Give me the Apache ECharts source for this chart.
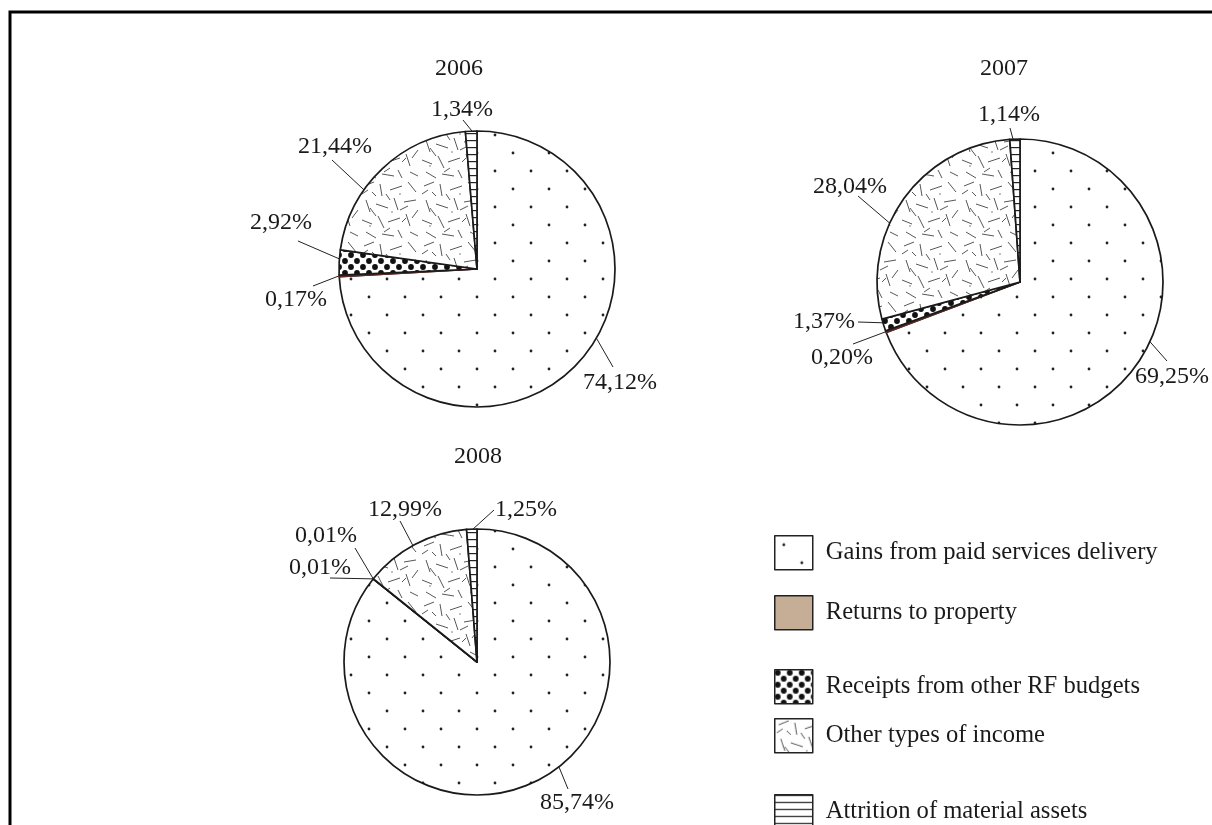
<!DOCTYPE html>
<html>
<head>
<meta charset="utf-8">
<title>Structure of income, 2006–2008</title>
<script src="https://cdn.jsdelivr.net/npm/echarts@6/dist/echarts.min.js"></script>
<style>
  html, body { margin: 0; padding: 0; background: #fff; }
  #chart { width: 1212px; height: 825px; }
</style>
</head>
<body>
<div id="chart"></div>
<script>
// ---- data ----
const years = ['2006', '2007', '2008'];
const categories = [
  'Gains from paid services delivery',
  'Returns to property',
  'Receipts from other RF budgets',
  'Other types of income',
  'Attrition of material assets'
];
const shares2006 = [74.12, 0.17, 2.92, 21.44, 1.34];
const shares2007 = [69.25, 0.20, 1.37, 28.04, 1.14];
const shares2008 = [85.74, 0.01, 0.01, 12.99, 1.25];
const sharesByYear = [shares2006, shares2007, shares2008];

// ---- layout ----
const FONT = 'Liberation Serif, Times New Roman, serif';
const INK = '#1a1a1a';

const pies = [
  { center: [477, 269], radius: 138, title: [459, 70] },
  { center: [1020, 282], radius: 143, title: [1004, 70] },
  { center: [477, 662], radius: 133, title: [478, 458] }
];

// per slice: text centre, outer end of the leader, and how far along the slice the leader touches the rim
const labelPlacement = [
  [
    { text: [620, 383], elbow: [613, 367], t: 0.45 },
    { text: [296, 300], elbow: [313, 286], t: 0.5 },
    { text: [281, 223], elbow: [298, 241], t: 0.64 },
    { text: [335, 147], elbow: [332, 160], t: 0.35 },
    { text: [462, 110], elbow: [463, 120], t: 0.57 }
  ],
  [
    { text: [1172, 377], elbow: [1167, 361], t: 0.46 },
    { text: [842, 358], elbow: [853, 344], t: 0.5 },
    { text: [824, 322], elbow: [858, 322], t: 0.69 },
    { text: [850, 187], elbow: [858, 196], t: 0.39 },
    { text: [1009, 115], elbow: [1010, 128], t: 0.32 }
  ],
  [
    { text: [577, 803], elbow: [568, 789], t: 0.46 },
    { text: [320, 568], elbow: [330, 578], t: 0.5 },
    { text: [326, 536], elbow: [355, 548], t: 0.5 },
    { text: [405, 510], elbow: [400, 521], t: 0.48 },
    { text: [526, 510], elbow: [494, 510], t: 0.62 }
  ]
];

const legendTops = [535, 595, 669, 718, 794];

// ---- fill patterns ----
function tile(w, h, draw) {
  const c = document.createElement('canvas');
  c.width = w; c.height = h;
  const ctx = c.getContext('2d');
  ctx.fillStyle = '#ffffff';
  ctx.fillRect(0, 0, w, h);
  draw(ctx);
  return c;
}
function dot(ctx, x, y, r, color) {
  ctx.fillStyle = color;
  ctx.beginPath(); ctx.arc(x, y, r, 0, Math.PI * 2); ctx.fill();
}

// sparse staggered dots
const sparseDots = tile(36, 36, ctx => {
  dot(ctx, 9, 9, 1.4, '#222');
  dot(ctx, 27, 27, 1.4, '#222');
});
// dense large dots
const denseDots = tile(12, 12, ctx => {
  [[3, 3], [9, 9], [9, -3], [-3, 9], [15, 3], [3, 15], [15, 15], [-3, -3]]
    .forEach(p => dot(ctx, p[0], p[1], 2.9, '#111'));
});
// scattered short strokes
const strokeList = [
  [4, 6, 14, 2], [20, 4, 22, 16], [30, 10, 42, 6], [48, 2, 56, 12],
  [6, 20, 10, 32], [16, 24, 28, 28], [34, 18, 38, 30], [44, 22, 56, 20],
  [2, 40, 12, 44], [18, 36, 24, 48], [28, 42, 40, 38], [46, 34, 50, 46],
  [6, 52, 16, 58], [22, 54, 34, 56], [38, 50, 42, 58], [50, 52, 58, 56],
  [26, 14, 30, 20], [12, 12, 16, 16], [40, 30, 48, 26], [52, 38, 58, 30],
  [10, 28, 16, 36], [30, 48, 24, 52], [2, 14, 8, 10], [42, 42, 46, 38]
];
const scatteredStrokes = tile(60, 60, ctx => {
  ctx.strokeStyle = '#444';
  ctx.lineWidth = 0.9;
  strokeList.forEach(s => {
    ctx.beginPath(); ctx.moveTo(s[0], s[1]); ctx.lineTo(s[2], s[3]); ctx.stroke();
  });
  dot(ctx, 40, 14, 0.7, '#555');
  dot(ctx, 10, 46, 0.7, '#555');
  dot(ctx, 32, 32, 0.7, '#555');
});
// horizontal rules
const hRules = tile(8, 7, ctx => {
  ctx.fillStyle = '#222';
  ctx.fillRect(0, 0, 8, 1.2);
});

const sliceFills = [
  { image: sparseDots, repeat: 'repeat' },
  '#c6ae96',
  { image: denseDots, repeat: 'repeat' },
  { image: scatteredStrokes, repeat: 'repeat' },
  { image: hRules, repeat: 'repeat' }
];

// ---- helpers ----
function polar(center, r, deg) {
  const a = deg * Math.PI / 180;
  return [center[0] + r * Math.sin(a), center[1] - r * Math.cos(a)];
}
function sliceAngles(values) {
  const total = values.reduce((s, v) => s + v, 0);
  let acc = 0;
  return values.map(v => {
    const a0 = acc / total * 360;
    acc += v;
    return [a0, acc / total * 360];
  });
}
function pct(v) {
  return v.toFixed(2).replace('.', ',') + '%';
}

// ---- chart ----
const chart = echarts.init(document.getElementById('chart'), null, { renderer: 'canvas' });

const series = years.map((year, yi) => {
  const values = sharesByYear[yi];
  const angles = sliceAngles(values);
  const geo = pies[yi];
  return {
    name: year,
    type: 'pie',
    center: geo.center,
    radius: geo.radius,
    startAngle: 90,
    clockwise: true,
    avoidLabelOverlap: false,
    animation: false,
    emphasis: { disabled: true },
    itemStyle: { borderColor: '#1a1a1a', borderWidth: 1.7 },
    label: {
      show: true,
      position: 'outside',
      formatter: p => pct(p.value),
      fontFamily: FONT,
      fontSize: 24,
      color: INK
    },
    labelLine: { show: true, lineStyle: { color: '#222', width: 1 } },
    labelLayout: params => {
      const place = labelPlacement[yi][params.dataIndex];
      const [a0, a1] = angles[params.dataIndex];
      const rim = polar(geo.center, geo.radius, a0 + place.t * (a1 - a0));
      return {
        x: place.text[0],
        y: place.text[1],
        align: 'center',
        verticalAlign: 'middle',
        labelLinePoints: [rim, place.elbow, place.elbow]
      };
    },
    data: categories.map((name, ci) => ({
      name: name,
      value: values[ci],
      itemStyle: {
        color: sliceFills[ci],
        borderColor: ci === 1 ? '#5e2a22' : '#1a1a1a'
      }
    }))
  };
});

const option = {
  backgroundColor: '#ffffff',
  title: years.map((year, yi) => ({
    text: year,
    left: pies[yi].title[0],
    top: pies[yi].title[1] - 13,
    textAlign: 'center',
    padding: 0,
    textStyle: { fontFamily: FONT, fontSize: 24, fontWeight: 'normal', color: INK }
  })),
  legend: categories.map((name, ci) => ({
    data: [name],
    left: 774,
    top: legendTops[ci],
    padding: 0,
    orient: 'vertical',
    icon: 'rect',
    itemWidth: 38,
    itemHeight: 34,
    selectedMode: false,
    itemStyle: { borderColor: '#222', borderWidth: 1.5 },
    textStyle: { fontFamily: FONT, fontSize: 24.6, color: INK, padding: [0, 0, 0, 8] }
  })),
  graphic: [
    {
      type: 'rect',
      silent: true,
      shape: { x: 10, y: 12, width: 1400, height: 1000 },
      style: { fill: null, stroke: '#000', lineWidth: 3 }
    }
  ],
  series: series
};

chart.setOption(option);
</script>
</body>
</html>
